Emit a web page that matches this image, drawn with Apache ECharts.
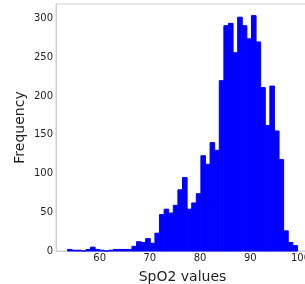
<!DOCTYPE html>
<html>
<head>
<meta charset="utf-8">
<script src="https://cdn.jsdelivr.net/npm/echarts@6/dist/echarts.min.js"></script>
<style>
  html, body { margin: 0; padding: 0; background: #fff; }
  #chart { width: 305px; height: 284px; }
</style>
</head>
<body>
<div id="chart"></div>
<script>
// Histogram of SpO2 readings, 50 bins
const binStart = 53.6;
const binWidth = 0.916;
const counts = [
  2, 1, 1, 0, 2, 5, 2, 1, 0, 1,
  2, 2, 2, 2, 6, 12, 11, 16, 10, 23,
  47, 54, 49, 59, 79, 95, 54, 62, 74, 123,
  112, 140, 130, 220, 291, 294, 256, 302, 291, 274,
  304, 270, 211, 162, 213, 155, 118, 26, 11, 7
];
const xTicks = [60, 70, 80, 90, 100];
const yTicks = [0, 50, 100, 150, 200, 250, 300];

const textColor = '#1f1f1f';
const spineColor = '#cfcfcf';

const bins = counts.map((c, i) => {
  const lo = binStart + i * binWidth;
  return [lo, lo + binWidth, c];
});

function renderBar(params, api) {
  const topLeft = api.coord([api.value(0), api.value(2)]);
  const bottomRight = api.coord([api.value(1), 0]);
  return {
    type: 'rect',
    shape: {
      x: topLeft[0],
      y: topLeft[1],
      width: bottomRight[0] - topLeft[0],
      height: bottomRight[1] - topLeft[1]
    },
    // same-colour stroke closes the hairline gaps between neighbouring bins
    style: { fill: '#0000ff', stroke: '#0000ff', lineWidth: 1 }
  };
}

const chart = echarts.init(document.getElementById('chart'));
chart.setOption({
  animation: false,
  grid: {
    left: 56,
    right: -4,
    top: 4,
    bottom: 33,
    outerBoundsMode: 'none',
    containLabel: false,
    show: true,
    borderColor: spineColor,
    borderWidth: 1
  },
  xAxis: {
    type: 'value',
    min: 51.3,
    max: 101.7,
    name: 'SpO2 values',
    nameLocation: 'middle',
    nameGap: 19,
    nameMoveOverlap: false,
    nameTextStyle: { fontFamily: 'DejaVu Sans', fontSize: 14, color: textColor },
    axisLine: { show: true, lineStyle: { color: spineColor } },
    axisTick: { show: false },
    splitLine: { show: false },
    axisLabel: {
      customValues: xTicks,
      margin: 2,
      fontFamily: 'DejaVu Sans',
      fontSize: 10,
      color: textColor
    }
  },
  yAxis: {
    type: 'value',
    min: 0,
    max: 319,
    name: 'Frequency',
    nameLocation: 'middle',
    nameGap: 29,
    nameMoveOverlap: false,
    nameTextStyle: { fontFamily: 'DejaVu Sans', fontSize: 14, color: textColor },
    axisLine: { show: true, lineStyle: { color: spineColor } },
    axisTick: { show: false },
    splitLine: { show: false },
    axisLabel: {
      customValues: yTicks,
      margin: 3,
      fontFamily: 'DejaVu Sans',
      fontSize: 10,
      color: textColor
    }
  },
  series: [{
    type: 'custom',
    renderItem: renderBar,
    encode: { x: [0, 1], y: 2 },
    data: bins
  }]
});
</script>
</body>
</html>
